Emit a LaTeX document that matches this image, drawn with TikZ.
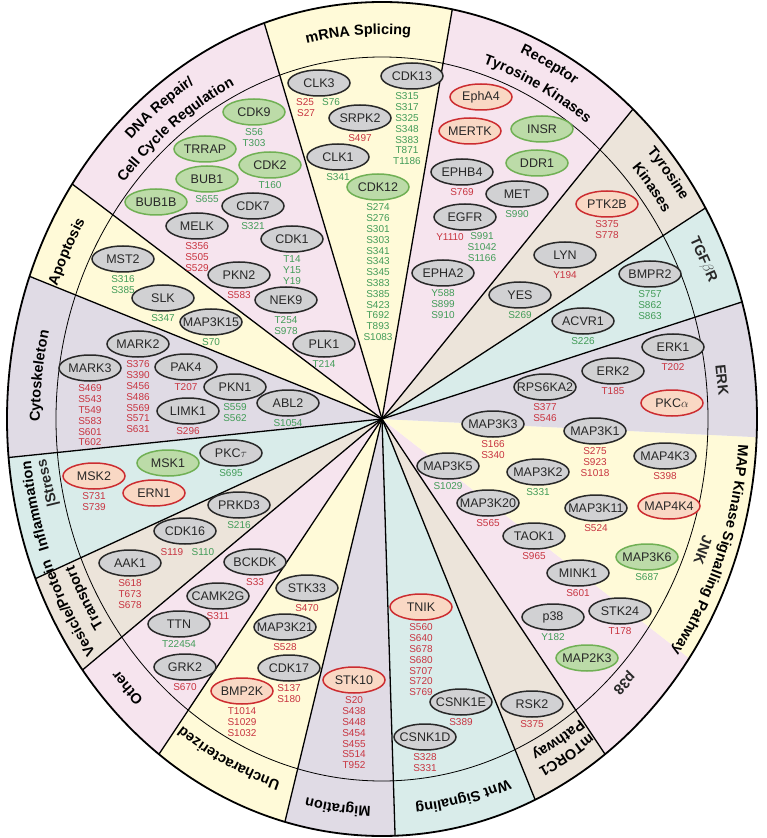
\documentclass[tikz,border=0pt]{standalone}
\usepackage{fontspec}
\setmainfont{Liberation Sans}
\usepackage{tikz}
\usetikzlibrary{shapes.geometric, positioning, decorations.text}
\definecolor{pinkbg}{RGB}{246,228,238}
\definecolor{yellowbg}{RGB}{255,250,216}
\definecolor{beigebg}{RGB}{236,228,218}
\definecolor{tealbg}{RGB}{217,236,234}
\definecolor{lavbg}{RGB}{224,219,229}
\definecolor{kinfill}{RGB}{209,209,211}
\definecolor{kinline}{RGB}{40,40,40}
\definecolor{grnfill}{RGB}{188,219,168}
\definecolor{grnline}{RGB}{112,176,84}
\definecolor{redfill}{RGB}{249,216,196}
\definecolor{redline}{RGB}{204,44,48}
\definecolor{redtext}{RGB}{200,52,64}
\definecolor{grntext}{RGB}{66,156,88}
\definecolor{darktext}{RGB}{40,40,40}
\newcommand{\titlefont}{\fontsize{14.5}{17}\selectfont\bfseries}
% title bent along the ring: baseline radius, middle angle, text
\newcommand{\ringtext}[3]{%
  \path[decorate, decoration={text along path, text align=center, text={|\titlefont|#3}}]
    ({#1*cos(#2+45)},{1.112*#1*sin(#2+45)})
    arc[start angle={#2+45}, end angle={#2-45}, x radius={#1}, y radius={1.112*#1}];}

\begin{document}
\begin{tikzpicture}[x=1pt, y=1pt,
    kin/.style={ellipse, draw=kinline, line width=1.5pt, fill=kinfill,
                minimum width=62pt, minimum height=26pt, inner xsep=-12pt,
                inner ysep=0pt, font=\fontsize{12.5}{13}\selectfont, text=darktext},
    kgreen/.style={kin, draw=grnline, fill=grnfill},
    kred/.style={kin, draw=redline, fill=redfill},
    site/.style={inner sep=0pt, align=center, font=\fontsize{10}{10.8}\selectfont},
    rsite/.style={site, text=redtext},
    gsite/.style={site, text=grntext},
    title/.style={font=\titlefont, align=center, text=darktext, inner sep=0pt},
    sep/.style={line width=1.3pt, black}
]
    \useasboundingbox (-382,-419) rectangle (385,419);

    % sectors
    \fill[yellowbg] (0,0) -- (79.2:375 and 417) arc[start angle=79.2, end angle=108.3, x radius=375, y radius=417] -- cycle;
    \fill[pinkbg] (0,0) -- (108.3:375 and 417) arc[start angle=108.3, end angle=145.7, x radius=375, y radius=417] -- cycle;
    \fill[yellowbg] (0,0) -- (145.7:375 and 417) arc[start angle=145.7, end angle=160, x radius=375, y radius=417] -- cycle;
    \fill[lavbg] (0,0) -- (160:375 and 417) arc[start angle=160, end angle=185.3, x radius=375, y radius=417] -- cycle;
    \fill[tealbg] (0,0) -- (185.3:375 and 417) arc[start angle=185.3, end angle=202.5, x radius=375, y radius=417] -- cycle;
    \fill[beigebg] (0,0) -- (202.5:375 and 417) arc[start angle=202.5, end angle=217, x radius=375, y radius=417] -- cycle;
    \fill[pinkbg] (0,0) -- (217:375 and 417) arc[start angle=217, end angle=233.5, x radius=375, y radius=417] -- cycle;
    \fill[yellowbg] (0,0) -- (233.5:375 and 417) arc[start angle=233.5, end angle=255, x radius=375, y radius=417] -- cycle;
    \fill[lavbg] (0,0) -- (255:375 and 417) arc[start angle=255, end angle=272, x radius=375, y radius=417] -- cycle;
    \fill[tealbg] (0,0) -- (272:375 and 417) arc[start angle=272, end angle=294.1, x radius=375, y radius=417] -- cycle;
    \fill[beigebg] (0,0) -- (294.1:375 and 417) arc[start angle=294.1, end angle=306.5, x radius=375, y radius=417] -- cycle;
    \fill[pinkbg] (0,0) -- (306.5:375 and 417) arc[start angle=306.5, end angle=325, x radius=375, y radius=417] -- cycle;
    \fill[yellowbg] (0,0) -- (325:375 and 417) arc[start angle=325, end angle=357.5, x radius=375, y radius=417] -- cycle;
    \fill[lavbg] (0,0) -- (357.5:375 and 417) arc[start angle=357.5, end angle=376.3, x radius=375, y radius=417] -- cycle;
    \fill[tealbg] (0,0) -- (16.3:375 and 417) arc[start angle=16.3, end angle=30.4, x radius=375, y radius=417] -- cycle;
    \fill[beigebg] (0,0) -- (30.4:375 and 417) arc[start angle=30.4, end angle=48, x radius=375, y radius=417] -- cycle;
    \fill[pinkbg] (0,0) -- (48:375 and 417) arc[start angle=48, end angle=79.2, x radius=375, y radius=417] -- cycle;

    \foreach \a in {16.3,30.4,48,79.2,108.3,145.7,160,185.3,202.5,217,233.5,255,272,294.1,306.5}
        \draw[sep] (0,0) -- (\a:375 and 417);
    \draw[line width=0.8pt] (0,0) ellipse [x radius=326, y radius=362];
    \draw[line width=1.8pt] (0,0) ellipse [x radius=375, y radius=417];

    % titles
    \ringtext{346}{93.7}{mRNA Splicing}
    \ringtext{355}{127}{DNA Repair/}
    \ringtext{334}{127}{Cell Cycle Regulation}
    \ringtext{357}{63.6}{Receptor}
    \ringtext{335}{63.6}{Tyrosine Kinases}
    \ringtext{358}{39.2}{Tyrosine}
    \ringtext{337}{39.2}{Kinases}
    \node[title, rotate=-66] (ttgf) at (321,159) {TGF$\beta$R};
    \node[title, rotate=-84.1] (terk) at (340,39) {ERK};
    \node[title, rotate=-110.2] (tjnk) at (321,-131) {JNK};
    \ringtext{357}{-20.5}{MAP Kinase Signalling Pathway}
    \node[title, rotate=-134.5] (tp38) at (242,-264) {p38};
    \ringtext{351}{-60}{mTORC1}
    \ringtext{335}{-60}{Pathway}
    \ringtext{348}{-77.3}{Wnt Signaling}
    \ringtext{349}{-96.8}{Migration}
    \ringtext{341}{-115.4}{Uncharacterized}
    \ringtext{347}{-134.9}{Other}
    \ringtext{355}{-150.3}{Vesicle/Protein}
    \ringtext{335}{-150.3}{Transport}
    \ringtext{353}{-166.6}{Inflammation}
    \node[title, rotate=103.7] (tstress) at (-334,-64) {|Stress};
    \ringtext{342}{173.2}{Cytoskeleton}
    \ringtext{346}{153.3}{Apoptosis}

    % mRNA splicing
    \node[kin] (clk3) at (-63,336) {CLK3};
    \node[rsite] (clk3a) at (-77,317) {S25};
    \node[gsite] (clk3b) at (-51,317) {S76};
    \node[rsite] (clk3c) at (-76,306) {S27};
    \node[kin] (srpk2) at (-22,301) {SRPK2};
    \node[rsite, below=3pt of srpk2] (srpk2s) {S497};
    \node[kin] (clk1) at (-44,262) {CLK1};
    \node[gsite, below=3pt of clk1] (clk1s) {S341};
    \node[kgreen] (cdk12) at (-4,232) {CDK12};
    \node[gsite, below=3pt of cdk12] (cdk12s) {S274\\S276\\S301\\S303\\S341\\S343\\S345\\S383\\S385\\S423\\T692\\T893\\S1083};
    \node[kin] (cdk13) at (30,343) {CDK13};
    \node[gsite, below=3pt of cdk13, xshift=-5pt] (cdk13s) {S315\\S317\\S325\\S348\\S383\\T871\\T1186};

    % DNA repair / cell cycle
    \node[kgreen] (cdk9) at (-128,307) {CDK9};
    \node[gsite, below=3pt of cdk9] (cdk9s) {S56\\T303};
    \node[kgreen] (trrap) at (-177,270) {TRRAP};
    \node[kgreen] (cdk2) at (-112,254) {CDK2};
    \node[gsite, below=3pt of cdk2] (cdk2s) {T160};
    \node[kgreen] (bub1) at (-175,240) {BUB1};
    \node[gsite, below=3pt of bub1] (bub1s) {S655};
    \node[kgreen] (bub1b) at (-226,217) {BUB1B};
    \node[kin] (cdk7) at (-129,213) {CDK7};
    \node[gsite, below=3pt of cdk7] (cdk7s) {S321};
    \node[kin] (melk) at (-185,193) {MELK};
    \node[rsite, below=3pt of melk] (melks) {S356\\S505\\S529};
    \node[kin] (cdk1) at (-90,180) {CDK1};
    \node[gsite, below=3pt of cdk1] (cdk1s) {T14\\Y15\\Y19};
    \node[kin] (pkn2) at (-143,144) {PKN2};
    \node[rsite, below=3pt of pkn2] (pkn2s) {S583};
    \node[kin] (nek9) at (-96,119) {NEK9};
    \node[gsite, below=3pt of nek9] (nek9s) {T254\\S978};
    \node[kin] (plk1) at (-58,75) {PLK1};
    \node[gsite, below=3pt of plk1] (plk1s) {T214};

    % apoptosis
    \node[kin] (mst2) at (-259,160) {MST2};
    \node[gsite, below=3pt of mst2] (mst2s) {S316\\S385};
    \node[kin] (slk) at (-219,121) {SLK};
    \node[gsite, below=3pt of slk] (slks) {S347};
    \node[kin] (map3k15) at (-171,97) {MAP3K15};
    \node[gsite, below=3pt of map3k15] (map3k15s) {S70};

    % cytoskeleton
    \node[kin] (mark2) at (-244,75) {MARK2};
    \node[rsite, below=3pt of mark2] (mark2s) {S376\\S390\\S456\\S486\\S569\\S571\\S631};
    \node[kin] (mark3) at (-292,51) {MARK3};
    \node[rsite, below=3pt of mark3] (mark3s) {S469\\S543\\T549\\S583\\S601\\T602};
    \node[kin] (pak4) at (-196,52) {PAK4};
    \node[rsite, below=3pt of pak4] (pak4s) {T207};
    \node[kin] (pkn1) at (-147,32) {PKN1};
    \node[gsite, below=3pt of pkn1] (pkn1s) {S559\\S562};
    \node[kin] (abl2) at (-94,16) {ABL2};
    \node[gsite, below=3pt of abl2] (abl2s) {S1054};
    \node[kin] (limk1) at (-194,8) {LIMK1};
    \node[rsite, below=3pt of limk1] (limk1s) {S296};

    % inflammation / stress
    \node[kin] (pkct) at (-151,-34) {PKC$\tau$};
    \node[gsite, below=3pt of pkct] (pkcts) {S695};
    \node[kgreen] (msk1) at (-214,-44) {MSK1};
    \node[kred] (msk2) at (-288,-57) {MSK2};
    \node[rsite, below=3pt of msk2] (msk2s) {S731\\S739};
    \node[kred] (ern1) at (-228,-74) {ERN1};

    % vesicle / protein transport
    \node[kin] (prkd3) at (-143,-86) {PRKD3};
    \node[gsite, below=3pt of prkd3] (prkd3s) {S216};
    \node[kin] (cdk16) at (-197,-112) {CDK16};
    \node[rsite] (cdk16a) at (-210,-133) {S119};
    \node[gsite] (cdk16b) at (-179,-133) {S110};
    \node[kin] (aak1) at (-252,-144) {AAK1};
    \node[rsite, below=3pt of aak1] (aak1s) {S618\\T673\\S678};

    % other
    \node[kin] (bckdk) at (-127,-143) {BCKDK};
    \node[rsite, below=3pt of bckdk] (bckdks) {S33};
    \node[kin] (camk2g) at (-164,-177) {CAMK2G};
    \node[rsite, below=3pt of camk2g] (camk2gs) {S311};
    \node[kin] (ttn) at (-203,-205) {TTN};
    \node[gsite, below=3pt of ttn] (ttns) {T22454};
    \node[kin] (grk2) at (-197,-248) {GRK2};
    \node[rsite, below=3pt of grk2] (grk2s) {S670};

    % uncharacterized
    \node[kin] (stk33) at (-75,-169) {STK33};
    \node[rsite, below=3pt of stk33] (stk33s) {S470};
    \node[kin] (map3k21) at (-97,-208) {MAP3K21};
    \node[rsite, below=3pt of map3k21] (map3k21s) {S528};
    \node[kin] (cdk17) at (-93,-249) {CDK17};
    \node[rsite, below=3pt of cdk17] (cdk17s) {S137\\S180};
    \node[kred] (bmp2k) at (-140,-272) {BMP2K};
    \node[rsite, below=3pt of bmp2k] (bmp2ks) {T1014\\S1029\\S1032};

    % migration
    \node[kred] (stk10) at (-28,-261) {STK10};
    \node[rsite, below=3pt of stk10] (stk10s) {S20\\S438\\S448\\S454\\S455\\S514\\T952};

    % Wnt signaling
    \node[kred] (tnik) at (39,-188) {TNIK};
    \node[rsite, below=3pt of tnik] (tniks) {S560\\S640\\S678\\S680\\S707\\S720\\S769};
    \node[kin] (csnk1e) at (79,-283) {CSNK1E};
    \node[rsite, below=3pt of csnk1e] (csnk1es) {S389};
    \node[kin] (csnk1d) at (43,-318) {CSNK1D};
    \node[rsite, below=3pt of csnk1d] (csnk1ds) {S328\\S331};

    % mTORC1
    \node[kin] (rsk2) at (150,-285) {RSK2};
    \node[rsite, below=3pt of rsk2] (rsk2s) {S375};

    % p38
    \node[kin] (map3k20) at (106,-84) {MAP3K20};
    \node[rsite, below=3pt of map3k20] (map3k20s) {S565};
    \node[kin] (taok1) at (152,-117) {TAOK1};
    \node[rsite, below=3pt of taok1] (taok1s) {S965};
    \node[kin] (mink1) at (196,-154) {MINK1};
    \node[rsite, below=3pt of mink1] (mink1s) {S601};
    \node[kin] (stk24) at (238,-192) {STK24};
    \node[rsite, below=3pt of stk24] (stk24s) {T178};
    \node[kin] (p38) at (171,-198) {p38};
    \node[gsite, below=3pt of p38] (p38s) {Y182};
    \node[kgreen] (map2k3) at (205,-239) {MAP2K3};

    % JNK
    \node[kin] (map3k3) at (111,-5) {MAP3K3};
    \node[rsite, below=3pt of map3k3] (map3k3s) {S166\\S340};
    \node[kin] (map3k1) at (213,-12) {MAP3K1};
    \node[rsite, below=3pt of map3k1] (map3k1s) {S275\\S923\\S1018};
    \node[kin] (map4k3) at (283,-37) {MAP4K3};
    \node[rsite, below=3pt of map4k3] (map4k3s) {S398};
    \node[kin] (map3k5) at (66,-47) {MAP3K5};
    \node[gsite, below=3pt of map3k5] (map3k5s) {S1029};
    \node[kin] (map3k2) at (156,-53) {MAP3K2};
    \node[gsite, below=3pt of map3k2] (map3k2s) {S331};
    \node[kin] (map3k11) at (214,-89) {MAP3K11};
    \node[rsite, below=3pt of map3k11] (map3k11s) {S524};
    \node[kred] (map4k4) at (287,-87) {MAP4K4};
    \node[kgreen] (map3k6) at (265,-138) {MAP3K6};
    \node[gsite, below=3pt of map3k6] (map3k6s) {S687};

    % ERK
    \node[kin] (erk1) at (291,72) {ERK1};
    \node[rsite, below=3pt of erk1] (erk1s) {T202};
    \node[kin] (erk2) at (231,48) {ERK2};
    \node[rsite, below=3pt of erk2] (erk2s) {T185};
    \node[kred] (pkca) at (290,16) {PKC$\alpha$};
    \node[kin] (rps6ka2) at (163,32) {RPS6KA2};
    \node[rsite, below=3pt of rps6ka2] (rps6ka2s) {S377\\S546};

    % TGFbR
    \node[kin] (bmpr2) at (268,145) {BMPR2};
    \node[gsite, below=3pt of bmpr2] (bmpr2s) {S757\\S862\\S863};
    \node[kin] (acvr1) at (201,98) {ACVR1};
    \node[gsite, below=3pt of acvr1] (acvr1s) {S226};

    % tyrosine kinases
    \node[kred] (ptk2b) at (225,215) {PTK2B};
    \node[rsite, below=3pt of ptk2b] (ptk2bs) {S375\\S778};
    \node[kin] (lyn) at (183,164) {LYN};
    \node[rsite, below=3pt of lyn] (lyns) {Y194};
    \node[kin] (yes) at (138,124) {YES};
    \node[gsite, below=3pt of yes] (yess) {S269};

    % receptor tyrosine kinases
    \node[kred] (epha4) at (99,322) {EphA4};
    \node[kred] (mertk) at (88,288) {MERTK};
    \node[kgreen] (insr) at (160,290) {INSR};
    \node[kgreen] (ddr1) at (155,256) {DDR1};
    \node[kin] (ephb4) at (80,247) {EPHB4};
    \node[rsite, below=3pt of ephb4] (ephb4s) {S769};
    \node[kin] (met) at (135,225) {MET};
    \node[gsite, below=3pt of met] (mets) {S990};
    \node[kin] (egfr) at (83,202) {EGFR};
    \node[rsite] (egfra) at (68,182) {Y1110};
    \node[gsite] (egfrb) at (100,172) {S991\\S1042\\S1166};
    \node[kin] (epha2) at (61,146) {EPHA2};
    \node[gsite, below=3pt of epha2] (epha2s) {Y588\\S899\\S910};
\end{tikzpicture}
\end{document}
